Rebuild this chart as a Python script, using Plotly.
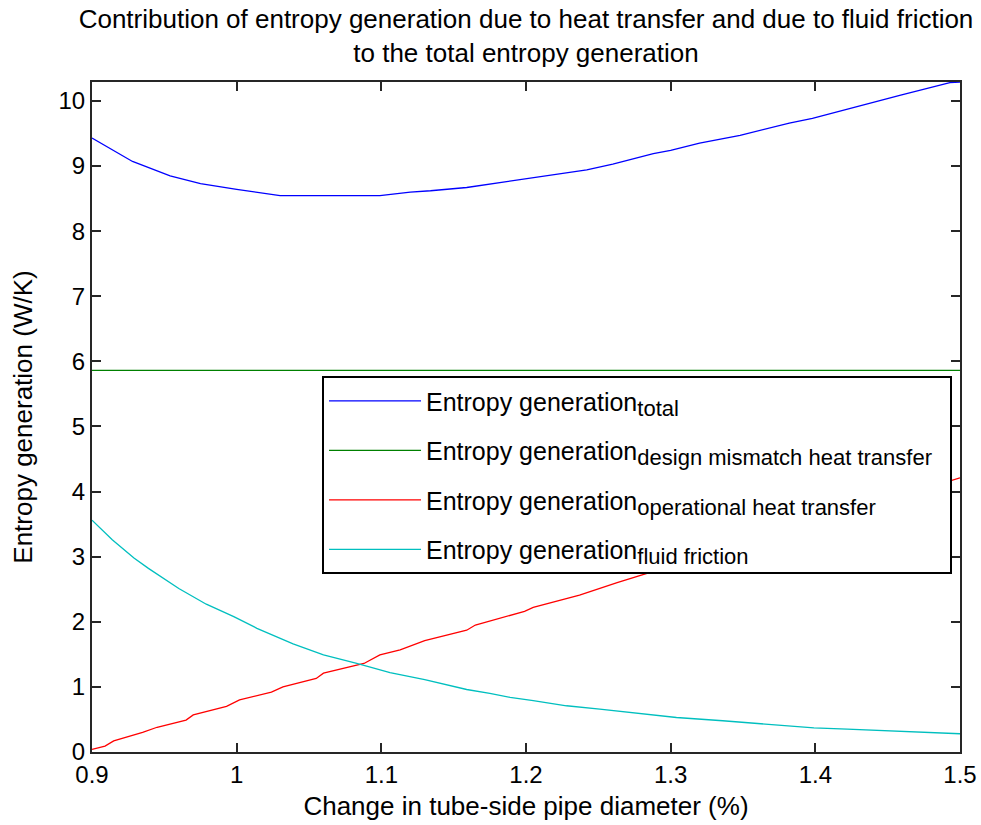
import plotly.graph_objects as go

# ---- data ----
total_x = [0.900, 0.928, 0.954, 0.975, 1.000, 1.021, 1.030, 1.065, 1.099, 1.120, 1.134, 1.159,
           1.177, 1.196, 1.219, 1.242, 1.260, 1.288, 1.300, 1.320, 1.348, 1.382, 1.398, 1.431,
           1.459, 1.493, 1.500]
total_y = [9.43, 9.07, 8.85, 8.73, 8.64, 8.58, 8.545, 8.545, 8.545, 8.60, 8.62, 8.67,
           8.73, 8.79, 8.86, 8.94, 9.03, 9.19, 9.24, 9.35, 9.47, 9.66, 9.73, 9.93,
           10.09, 10.28, 10.29]

mismatch_x = [0.9, 1.5]
mismatch_y = [5.86, 5.86]

oper_x = [0.900, 0.909, 0.915, 0.935, 0.945, 0.965, 0.970, 0.993, 1.002, 1.024, 1.032, 1.055,
          1.060, 1.088, 1.099, 1.113, 1.130, 1.159, 1.165, 1.199, 1.205, 1.237, 1.263, 1.300,
          1.350, 1.400, 1.450, 1.500]
oper_y = [0.04, 0.09, 0.17, 0.30, 0.38, 0.49, 0.57, 0.70, 0.80, 0.92, 1.00, 1.13,
          1.21, 1.36, 1.49, 1.57, 1.71, 1.87, 1.95, 2.16, 2.22, 2.41, 2.60, 2.86,
          3.20, 3.53, 3.87, 4.21]

fric_x = [0.900, 0.914, 0.929, 0.939, 0.960, 0.979, 0.998, 1.014, 1.039, 1.060, 1.083, 1.106,
          1.130, 1.159, 1.175, 1.189, 1.205, 1.228, 1.251, 1.279, 1.304, 1.336, 1.357, 1.378,
          1.399, 1.422, 1.452, 1.482, 1.500]
fric_y = [3.56, 3.26, 2.98, 2.82, 2.51, 2.27, 2.08, 1.90, 1.66, 1.49, 1.36, 1.22,
          1.11, 0.96, 0.90, 0.84, 0.79, 0.71, 0.66, 0.59, 0.53, 0.48, 0.44, 0.41,
          0.37, 0.35, 0.32, 0.29, 0.28]

subs = ["total", "design mismatch heat transfer", "operational heat transfer", "fluid friction"]
colors = ["#0000FF", "#008000", "#FF0000", "#00BFBF"]

x_ticks = [0.9, 1.0, 1.1, 1.2, 1.3, 1.4, 1.5]
x_ticktext = ["0.9", "1", "1.1", "1.2", "1.3", "1.4", "1.5"]
y_ticks = list(range(0, 11))

FONT = "Liberation Sans, Arial, Helvetica, sans-serif"

def lname(s, pad=""):
    return "Entropy generation<sub><span style='font-size:22px'>" + s + pad + "</span></sub>"

fig = go.Figure()
series = [(total_x, total_y), (mismatch_x, mismatch_y), (oper_x, oper_y), (fric_x, fric_y)]
for i, ((xs, ys), s, c) in enumerate(zip(series, subs, colors)):
    pad = "&nbsp;&nbsp;" if i == 1 else ""
    fig.add_trace(go.Scatter(x=xs, y=ys, mode="lines", name=lname(s, pad),
                             line=dict(color=c, width=1.3), legendgroup=str(i)))

axis_common = dict(showline=True, linecolor="#262626", linewidth=2, mirror="ticks",
                   ticks="inside", ticklen=9, tickwidth=1.5, tickcolor="#262626",
                   showgrid=False, zeroline=False, automargin=False,
                   tickfont=dict(family=FONT, size=24, color="black"))

fig.update_layout(
    width=981, height=825,
    margin=dict(l=92, r=21, t=82, b=73),
    paper_bgcolor="white", plot_bgcolor="white",
    font=dict(family=FONT, size=26, color="black"),
    title=dict(text="Contribution of entropy generation due to heat transfer and due to fluid friction<br>to the total entropy generation",
               x=0.5, xanchor="center", xref="paper", y=1, yanchor="bottom", yref="paper",
               pad=dict(b=54, t=0, l=0, r=0),
               font=dict(family=FONT, size=26, color="black")),
    xaxis=dict(range=[0.9, 1.5], tickvals=x_ticks, ticktext=x_ticktext,
               title=dict(text="Change in tube-side pipe diameter (%)", standoff=10,
                          font=dict(family=FONT, size=26)),
               **axis_common),
    yaxis=dict(range=[0, 10.29], tickvals=y_ticks,
               title=dict(text="Entropy generation (W/K)", standoff=18,
                          font=dict(family=FONT, size=26)),
               **axis_common),
    legend=dict(x=0.265, y=0.561, xanchor="left", yanchor="top",
                bgcolor="white", bordercolor="black", borderwidth=2,
                itemwidth=92, traceorder="grouped", tracegroupgap=14,
                font=dict(family=FONT, size=25, color="black")),
    showlegend=True,
)

fig.write_html("out.html")
